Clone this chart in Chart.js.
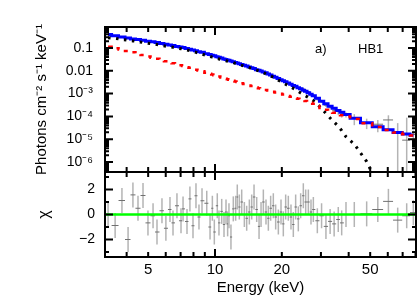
<!DOCTYPE html>
<html>
<head>
<meta charset="utf-8">
<title>HB1 spectrum</title>
<script src="https://cdn.jsdelivr.net/npm/chart.js@4.4.0/dist/chart.umd.min.js"></script>
<style>
  html, body { margin: 0; padding: 0; background: #fff; }
  #box { position: relative; width: 418px; height: 299px; }
  #box canvas { position: absolute; left: 0; top: 0; }
</style>
</head>
<body>
<div id="box">
  <canvas id="specChart" width="418" height="299"></canvas>
  <canvas id="residChart" width="418" height="299"></canvas>
</div>
<script>
// spectrum HB1 : bin centres (keV)
const energy = [
  3.30, 3.55, 3.81, 4.06, 4.27, 4.50, 4.74, 4.99, 5.26, 5.48,
  5.77, 6.01, 6.27, 6.47, 6.74, 7.03, 7.18, 7.48, 7.71, 7.96,
  8.21, 8.47, 8.74, 9.18, 9.50, 9.73, 9.93, 10.24, 10.42, 10.72,
  10.98, 11.21, 11.40, 11.56, 11.80, 12.09, 12.39, 12.60, 12.87, 13.19,
  13.56, 13.89, 14.28, 14.63, 14.99, 15.41, 15.79, 16.12, 16.51, 16.97,
  17.39, 17.81, 18.31, 18.76, 19.29, 19.83, 20.31, 20.81, 21.39, 21.99,
  22.53, 23.08, 23.73, 24.31, 24.99, 25.61, 26.33, 27.06, 27.73, 28.9,
  30.2, 31.6, 33.0, 34.4, 35.9, 37.2, 38.9, 42.4, 48.2, 54.1,
  60.4, 66.5, 73.0, 78.2
];

// residuals (data - model) / error
const chi = [
  0.0, -0.88, 1.12, -2.0, 1.57, 0.5, 1.52, -0.67, -0.1, -1.4,
  0.3, -1.1, 0.4, -0.67, 0.7, -0.5, 0.45, -0.56, 1.25, -0.9,
  1.5, -0.2, 1.1, 0.9, -1.0, 0.5, -1.4, 0.7, -0.67, 0.25,
  -0.8, 0.2, -0.75, -0.1, -1.8, 0.45, 0.5, 1.4, 0.6, 1.0,
  0.0, -0.3, 0.2, 0.6, 1.4, 0.4, -0.95, 0.0, 1.0, 0.2,
  -0.3, 0.5, 0.7, -0.2, -0.6, 0.2, -0.75, 0.6, 0.5, -0.2,
  -0.8, 0.6, -0.35, 0.7, 1.5, 1.0, 1.0, 0.2, 0.4, -0.5,
  -0.1, -0.95, -0.55, -0.75, -0.4, -0.67, 0.0, 0.0, 0.05, 0.4,
  1.05, -0.45, -0.1, 0.15
];

// unfolded data, photons cm-2 s-1 keV-1
const flux = [
  0.389, 0.341, 0.309, 0.264, 0.259, 0.236, 0.226, 0.197, 0.186, 0.169,
  0.159, 0.145, 0.136, 0.127, 0.119, 0.109, 0.106, 0.0944, 0.0893, 0.0798,
  0.0782, 0.0689, 0.0660, 0.0577, 0.0498, 0.0486, 0.0438, 0.0426, 0.0381, 0.0366,
  0.0323, 0.0318, 0.0288, 0.0287, 0.0254, 0.0254, 0.0232, 0.0228, 0.0208, 0.0197,
  0.0174, 0.0160, 0.0149, 0.0138, 0.0133, 0.0114, 0.0101, 0.00977, 0.00927, 0.00820,
  0.00713, 0.00678, 0.00595, 0.00520, 0.00443, 0.00411, 0.00347, 0.00343, 0.00297, 0.00254,
  0.00214, 0.00219, 0.00177, 0.00171, 0.00162, 0.00139, 0.00121, 9.52e-4, 8.46e-4, 5.84e-4,
  4.61e-4, 3.11e-4, 2.59e-4, 1.86e-4, 1.64e-4, 1.26e-4, 1.20e-4, 8.32e-5, 5.38e-5, 4.54e-5,
  7.0e-5, -5.2e-6, 9.1e-6, 1.6e-5
];
const fluxErr = [
  0.0078, 0.0069, 0.0060, 0.0055, 0.0050, 0.0047, 0.0044, 0.0040, 0.0037, 0.0035,
  0.0032, 0.0030, 0.0027, 0.0026, 0.0023, 0.0022, 0.0021, 0.0019, 0.0017, 0.0016,
  0.0015, 0.0014, 0.0013, 0.0017, 0.0015, 0.0014, 0.0014, 0.0013, 0.0012, 0.0011,
  0.0010, 9.5e-4, 8.9e-4, 8.6e-4, 8.1e-4, 7.5e-4, 6.9e-4, 6.6e-4, 6.1e-4, 5.7e-4,
  7.0e-4, 6.5e-4, 5.9e-4, 5.4e-4, 5.0e-4, 4.5e-4, 4.2e-4, 3.9e-4, 3.6e-4, 3.3e-4,
  3.6e-4, 3.3e-4, 2.9e-4, 2.6e-4, 2.3e-4, 2.0e-4, 2.2e-4, 2.0e-4, 1.7e-4, 1.5e-4,
  1.8e-4, 1.7e-4, 1.5e-4, 1.3e-4, 1.4e-4, 1.3e-4, 1.1e-4, 9.3e-5, 8.1e-5, 9.5e-5,
  7.0e-5, 5.4e-5, 4.2e-5, 5.7e-5, 4.6e-5, 3.8e-5, 3.0e-5, 4.2e-5, 2.6e-5, 2.5e-5,
  4.2e-5, 5.6e-5, 7.9e-5, 8.0e-6
];

// model components, log10(photons cm-2 s-1 keV-1)
const totalLog = [
  -0.41, -0.46, -0.52, -0.56, -0.60, -0.63, -0.66, -0.70, -0.73, -0.76,
  -0.80, -0.83, -0.87, -0.89, -0.93, -0.96, -0.98, -1.02, -1.06, -1.09,
  -1.12, -1.16, -1.19, -1.25, -1.29, -1.32, -1.34, -1.38, -1.41, -1.44,
  -1.48, -1.50, -1.53, -1.54, -1.57, -1.60, -1.64, -1.66, -1.69, -1.72,
  -1.76, -1.79, -1.83, -1.87, -1.90, -1.95, -1.98, -2.01, -2.05, -2.09,
  -2.14, -2.18, -2.24, -2.28, -2.34, -2.39, -2.44, -2.48, -2.54, -2.59,
  -2.64, -2.68, -2.74, -2.79, -2.85, -2.90, -2.96, -3.03, -3.09, -3.20,
  -3.33, -3.44, -3.55, -3.64, -3.74, -3.82, -3.92, -4.08, -4.28, -4.45,
  -4.58, -4.70, -4.77, -4.83
];
const powerLog = [
  -0.94, -1.01, -1.07, -1.13, -1.19, -1.25, -1.31, -1.37, -1.43, -1.47,
  -1.53, -1.58, -1.63, -1.67, -1.71, -1.76, -1.79, -1.84, -1.87, -1.91,
  -1.95, -1.99, -2.02, -2.08, -2.13, -2.16, -2.19, -2.23, -2.25, -2.29,
  -2.32, -2.35, -2.37, -2.39, -2.41, -2.44, -2.47, -2.49, -2.52, -2.55,
  -2.58, -2.61, -2.64, -2.67, -2.70, -2.73, -2.76, -2.78, -2.81, -2.84,
  -2.86, -2.89, -2.92, -2.95, -2.98, -3.01, -3.04, -3.07, -3.10, -3.14,
  -3.17, -3.20, -3.23, -3.26, -3.29, -3.32, -3.36, -3.40, -3.45, -3.54,
  -3.63, -3.71, -3.78, -3.84, -3.90, -3.95, -4.00, -4.11, -4.30, -4.46,
  -4.60, -4.71, -4.78, -4.84
];
const cutoffLog = [
  -0.55, -0.58, -0.62, -0.66, -0.69, -0.72, -0.76, -0.79, -0.82, -0.85,
  -0.89, -0.92, -0.95, -0.97, -1.00, -1.03, -1.05, -1.09, -1.12, -1.16,
  -1.19, -1.23, -1.27, -1.33, -1.37, -1.40, -1.42, -1.46, -1.48, -1.51,
  -1.54, -1.56, -1.58, -1.60, -1.62, -1.64, -1.68, -1.70, -1.73, -1.76,
  -1.80, -1.83, -1.86, -1.89, -1.93, -1.97, -2.01, -2.04, -2.08, -2.13,
  -2.18, -2.23, -2.28, -2.34, -2.41, -2.47, -2.53, -2.59, -2.66, -2.72,
  -2.77, -2.83, -2.90, -2.97, -3.04, -3.10, -3.17, -3.25, -3.31, -3.46,
  -3.66, -3.87, -4.07, -4.25, -4.43, -4.62, -4.89, -5.22, -5.98, -6.98,
  -8.0, -9.0, -10.0, -10.5
];

// axis ticks
const xTicks = [5, 10, 20, 50];
const xTickLabels = ['5', '10', '20', '50'];
const xMajorTicks = [10];
const xMinorTicks = [4, 5, 6, 7, 8, 9, 20, 30, 40, 50, 60, 70, 80];
const fluxTicks = [0.1, 0.01, 1e-3, 1e-4, 1e-5, 1e-6];
const fluxTickLabels = ['0.1', '0.01', '10\u207B\u00B3', '10\u207B\u2074', '10\u207B\u2075', '10\u207B\u2076'];
const chiTicks = [-2, 0, 2];
const chiTickLabels = ['\u22122', '0', '2'];
const chiMinorTicks = [-3, -1, 1, 3];

const FONT = "'Liberation Sans', Arial, Helvetica, sans-serif";
Chart.defaults.font.family = FONT;
Chart.defaults.color = '#000';

const E_MIN = 3.196, E_MAX = 80.4;

// bin edges: geometric midpoints between neighbouring centres
const binLo = energy.map((e, i) => i === 0 ? e * Math.sqrt(e / energy[1]) : Math.sqrt(energy[i - 1] * e));
const binHi = energy.map((e, i) => i === energy.length - 1 ? e * Math.sqrt(e / energy[i - 1]) : Math.sqrt(e * energy[i + 1]));

const pts = arr => energy.map((e, i) => ({ x: e, y: Math.pow(10, arr[i]) }));

// frame + inward ticks on all four sides
function drawFrame(chart, yMajor, yMinor) {
    const { ctx, chartArea: a, scales } = chart;
    const x = scales.x, y = scales.y;
    ctx.save();
    ctx.strokeStyle = '#000';
    ctx.lineWidth = 2;
    ctx.beginPath();
    const vt = (v, len) => {
        const p = x.getPixelForValue(v);
        ctx.moveTo(p, a.top); ctx.lineTo(p, a.top + len);
        ctx.moveTo(p, a.bottom); ctx.lineTo(p, a.bottom - len);
    };
    const ht = (v, len) => {
        const p = y.getPixelForValue(v);
        if (p < a.top || p > a.bottom) return;
        ctx.moveTo(a.left, p); ctx.lineTo(a.left + len, p);
        ctx.moveTo(a.right, p); ctx.lineTo(a.right - len, p);
    };
    xMajorTicks.forEach(v => vt(v, 8));
    xMinorTicks.forEach(v => vt(v, 5));
    yMajor.forEach(v => ht(v, 8));
    yMinor.forEach(v => ht(v, 4));
    ctx.stroke();
    ctx.strokeRect(a.left, a.top, a.right - a.left, a.bottom - a.top);
    ctx.restore();
}

// log axis minor ticks (2..9 per decade)
const fluxMinor = [];
for (let d = -7; d <= -1; d++) {
    for (let k = 2; k <= 9; k++) fluxMinor.push(k * Math.pow(10, d));
}

const specPlugin = {
    id: 'specPlugin',
    beforeDatasetsDraw(chart) {
        const { ctx, chartArea: a, scales: { x, y } } = chart;
        ctx.save();
        energy.forEach((e, i) => {
            const px = x.getPixelForValue(e);
            const hi = flux[i] + fluxErr[i];
            const lo = flux[i] - fluxErr[i];
            const yHi = y.getPixelForValue(hi);
            const yLo = lo > 0 ? y.getPixelForValue(lo) : a.bottom;
            ctx.strokeStyle = '#b4b4b4';
            ctx.lineWidth = 1.5;
            ctx.beginPath();
            ctx.moveTo(px, yHi); ctx.lineTo(px, yLo);
            ctx.stroke();
            if (flux[i] > 0) {
                const py = y.getPixelForValue(flux[i]);
                ctx.strokeStyle = '#707070';
                ctx.lineWidth = 1;
                ctx.beginPath();
                ctx.moveTo(x.getPixelForValue(binLo[i]), py);
                ctx.lineTo(x.getPixelForValue(binHi[i]), py);
                ctx.stroke();
            }
        });
        ctx.restore();
    },
    afterDraw(chart) {
        drawFrame(chart, fluxTicks, fluxMinor);
        const ctx = chart.ctx;
        ctx.save();
        ctx.fillStyle = '#000';
        ctx.font = '13px ' + FONT;
        ctx.textBaseline = 'middle';
        ctx.fillText('a)', 315, 49);
        ctx.fillText('HB1', 358, 49);
        ctx.restore();
    }
};

const residPlugin = {
    id: 'residPlugin',
    beforeDatasetsDraw(chart) {
        const { ctx, scales: { x, y } } = chart;
        ctx.save();
        energy.forEach((e, i) => {
            const px = x.getPixelForValue(e);
            ctx.strokeStyle = '#b4b4b4';
            ctx.lineWidth = 1.5;
            ctx.beginPath();
            ctx.moveTo(px, y.getPixelForValue(chi[i] + 1));
            ctx.lineTo(px, y.getPixelForValue(chi[i] - 1));
            ctx.stroke();
            const py = y.getPixelForValue(chi[i]);
            ctx.strokeStyle = '#707070';
            ctx.lineWidth = 1;
            ctx.beginPath();
            ctx.moveTo(x.getPixelForValue(binLo[i]), py);
            ctx.lineTo(x.getPixelForValue(binHi[i]), py);
            ctx.stroke();
        });
        ctx.restore();
    },
    afterDatasetsDraw(chart) {
        const { ctx, chartArea: a, scales: { y } } = chart;
        const p0 = y.getPixelForValue(0);
        ctx.save();
        ctx.strokeStyle = '#00ff00';
        ctx.lineWidth = 2.5;
        ctx.beginPath();
        ctx.moveTo(a.left, p0); ctx.lineTo(a.right, p0);
        ctx.stroke();
        ctx.restore();
    },
    afterDraw(chart) {
        drawFrame(chart, chiTicks, chiMinorTicks);
    }
};

const baseOpts = {
    responsive: false,
    animation: false,
    devicePixelRatio: 1,
    events: [],
    plugins: { legend: { display: false }, tooltip: { enabled: false } }
};

// upper panel: unfolded spectrum
new Chart(document.getElementById('specChart'), {
    type: 'line',
    data: {
        datasets: [
            { data: pts(powerLog), borderColor: '#ff0000', borderWidth: 2.5, borderDash: [4, 6], stepped: 'middle', pointRadius: 0, order: 0 },
            { data: pts(cutoffLog), borderColor: '#000000', borderWidth: 3, borderDash: [2.5, 5.5], pointRadius: 0, order: 1 },
            { data: pts(totalLog), borderColor: '#0000ff', borderWidth: 3, stepped: 'middle', pointRadius: 0, order: 2 }
        ]
    },
    options: {
        ...baseOpts,
        layout: { padding: { top: 27, bottom: 127, left: 0, right: 2 } },
        scales: {
            x: { type: 'logarithmic', min: E_MIN, max: E_MAX, bounds: 'data', display: false },
            y: {
                type: 'logarithmic', min: 3.65e-7, max: 0.834, bounds: 'data',
                afterBuildTicks: s => { s.ticks = fluxTicks.map(v => ({ value: v })); },
                afterFit: s => { s.width = 105; },
                grid: { display: false, drawTicks: false },
                border: { display: false },
                ticks: { autoSkip: false, padding: 12, font: { size: 14 }, callback: (v, i) => fluxTickLabels[i] },
                title: { display: true, text: 'Photons cm\u207B\u00B2 s\u207B\u00B9 keV\u207B\u00B9', font: { size: 15 }, padding: { top: 33, bottom: 0 } }
            }
        }
    },
    plugins: [specPlugin]
});

// lower panel: residuals
new Chart(document.getElementById('residChart'), {
    type: 'line',
    data: {
        datasets: [
            { data: energy.map((e, i) => ({ x: e, y: chi[i] })), showLine: false, pointRadius: 0 }
        ]
    },
    options: {
        ...baseOpts,
        layout: { padding: { top: 172, bottom: 0, left: 0, right: 2 } },
        scales: {
            x: {
                type: 'logarithmic', min: E_MIN, max: E_MAX, bounds: 'data',
                afterBuildTicks: s => { s.ticks = xTicks.map(v => ({ value: v })); },
                afterFit: s => { s.height = 42; },
                grid: { display: false, drawTicks: false },
                border: { display: false },
                ticks: { autoSkip: false, maxRotation: 0, padding: 4, font: { size: 15 }, callback: (v, i) => xTickLabels[i] },
                title: { display: true, text: 'Energy (keV)', font: { size: 15 }, padding: { top: 0, bottom: 2 } }
            },
            y: {
                type: 'linear', min: -3.4, max: 3.4,
                afterBuildTicks: s => { s.ticks = chiTicks.map(v => ({ value: v })); },
                afterFit: s => { s.width = 105; },
                grid: { display: false, drawTicks: false },
                border: { display: false },
                ticks: { autoSkip: false, padding: 10, font: { size: 14 }, callback: (v, i) => chiTickLabels[i] },
                title: { display: true, text: '\u03C7', font: { size: 16 }, padding: { top: 35, bottom: 0 } }
            }
        }
    },
    plugins: [residPlugin]
});
</script>
</body>
</html>
